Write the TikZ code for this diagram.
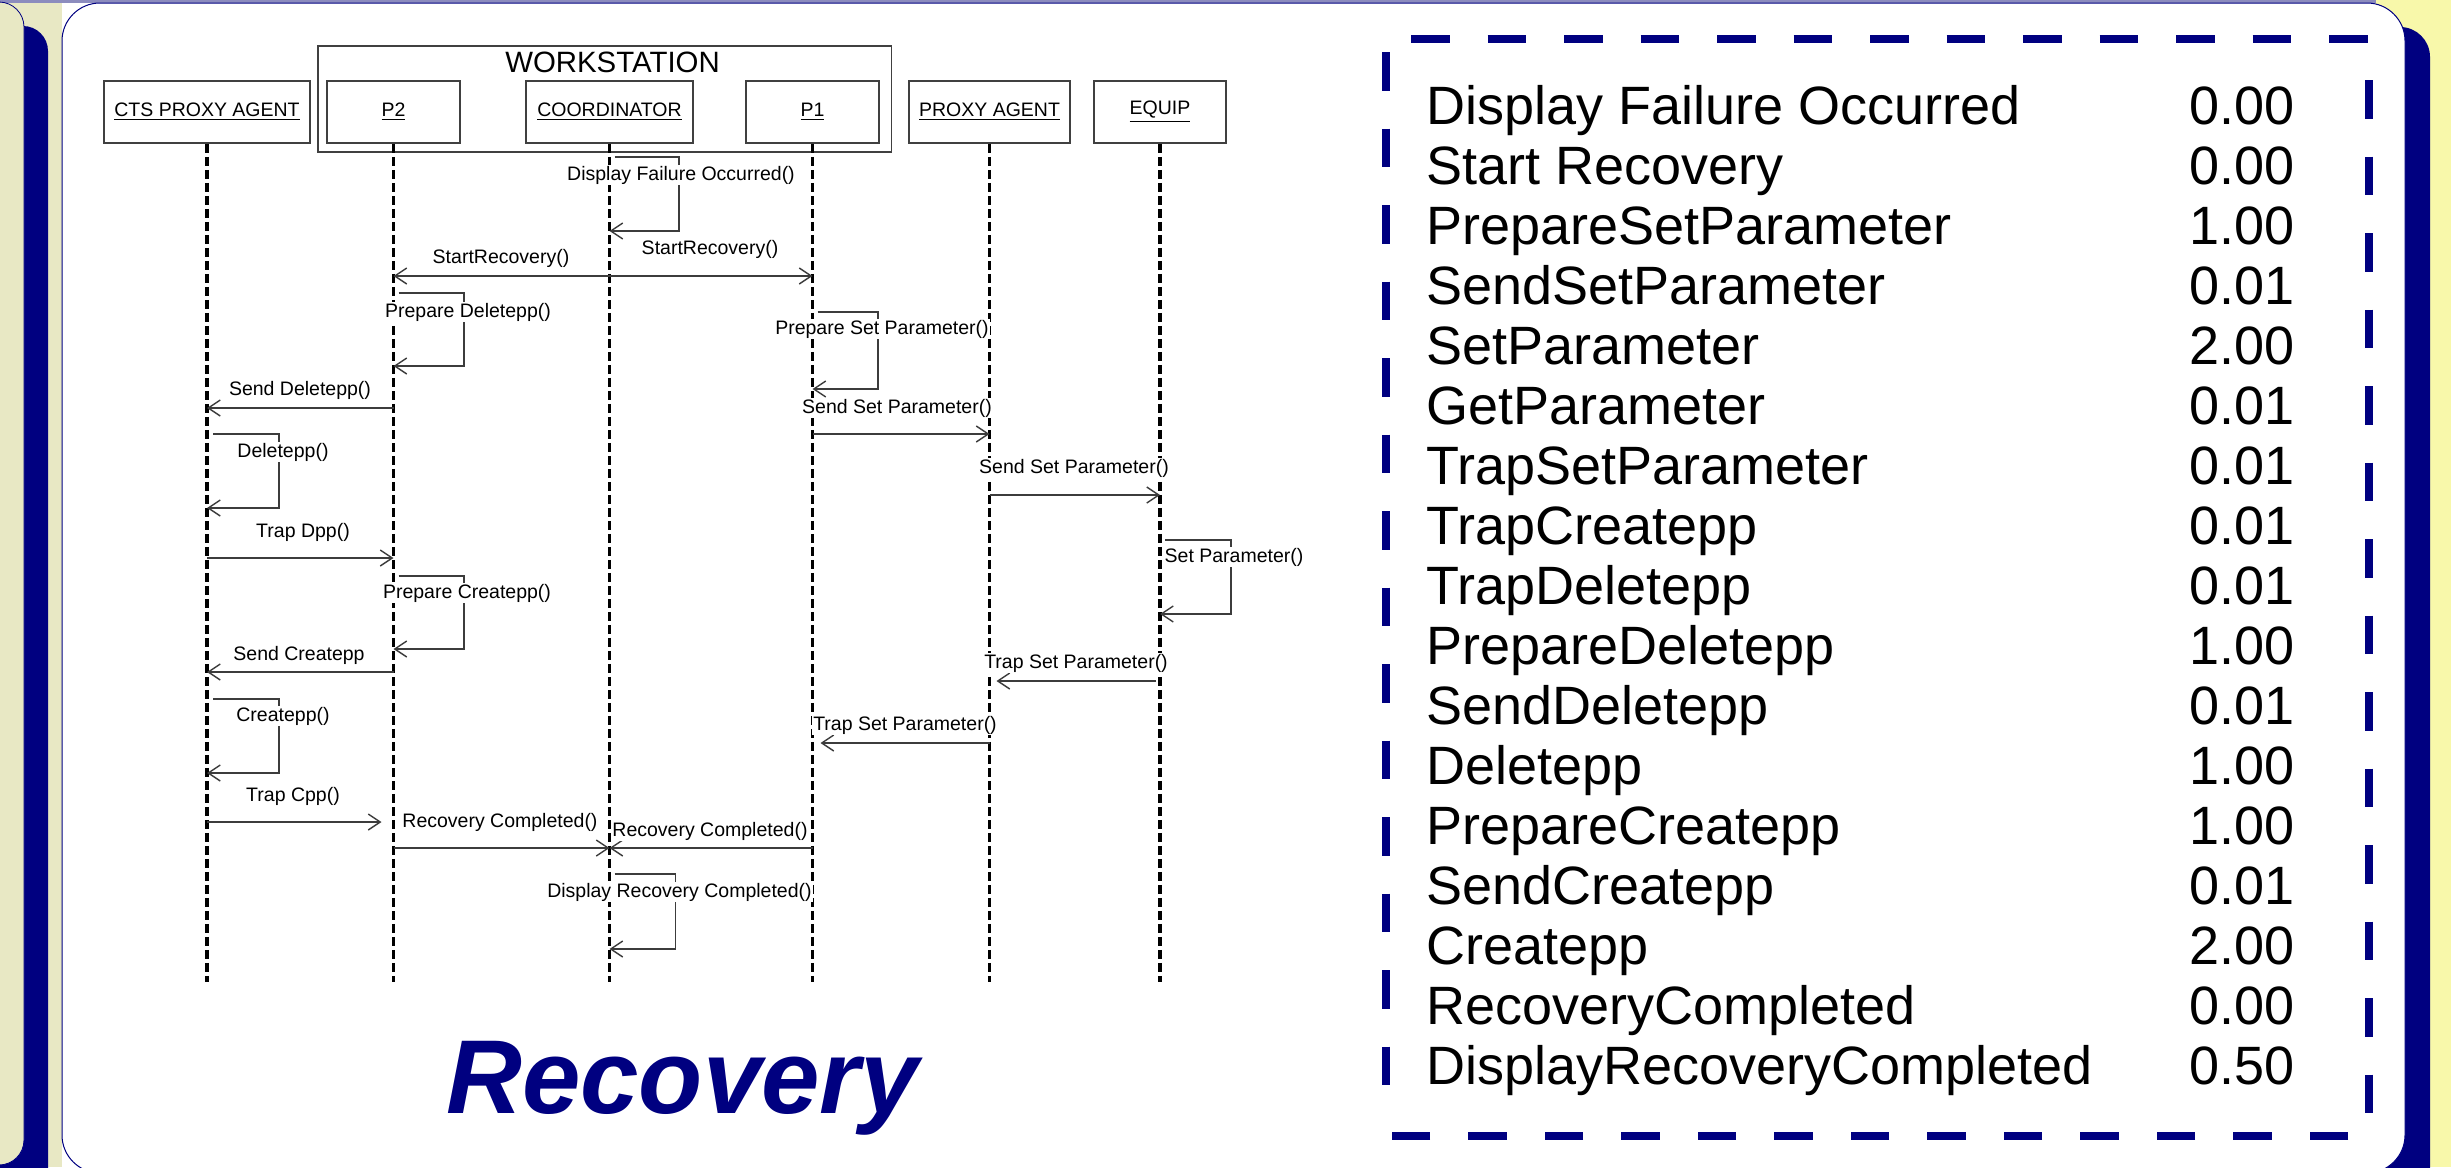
\documentclass[tikz,border=0pt]{standalone}
\usepackage{fontspec}
\setmainfont{Liberation Sans}
\usetikzlibrary{arrows.meta,calc}

\definecolor{navy}{RGB}{0,0,128}
\definecolor{creambg}{RGB}{232,232,196}
\definecolor{yellowbg}{RGB}{248,248,170}
\definecolor{topline}{RGB}{140,140,190}
\definecolor{msggray}{RGB}{60,60,60}

\begin{document}
\begin{tikzpicture}[x=0.5pt,y=-0.5pt,
  lbox/.style={draw=black!75, line width=0.75pt, fill=white, minimum height=31pt,
    inner sep=0pt, font=\fontsize{9.75}{11}\selectfont},
  life/.style={line width=1.75pt, dash pattern=on 4.5pt off 2pt},
  msg/.style={draw=msggray, line width=0.7pt, -{Straight Barb[length=6pt,width=8pt]}},
  lbl/.style={fill=white, inner sep=0.5pt, font=\fontsize{9.75}{11}\selectfont},
  tabtxt/.style={inner sep=0pt, font=\fontsize{27}{30}\selectfont},
  tabdash/.style={navy, line width=4pt, dash pattern=on 19.25pt off 19pt}
]
\useasboundingbox (0,0) rectangle (2451,1167);
\clip (0,0) rectangle (2451,1167);

% ---------- slide frame ----------
\fill[creambg] (0,0) rectangle (62,1167);
\fill[yellowbg] (2370,0) rectangle (2451,1167);
\fill[topline] (0,0) rectangle (2376,3);
% neighbouring panel and its shadow on the left
\fill[navy, rounded corners=12.5pt] (-200,26) rectangle (48,1260);
\draw[navy, line width=0.4pt, fill=creambg, rounded corners=12.5pt] (-200,2) rectangle (24,1165);
% main panel with its shadow
\fill[navy, rounded corners=15pt] (87,27) rectangle (2430,1197);
\draw[navy, line width=0.5pt, fill=white, rounded corners=19pt] (62,3) rectangle (2405,1173);

% ---------- sequence diagram ----------
\node[draw=black!75, line width=0.75pt, fill=white, minimum width=286.75pt,
  minimum height=53pt, inner sep=0pt] (ws) at (604.75,99) {};
\node[inner sep=0pt, font=\fontsize{14.7}{16}\selectfont] (wstitle) at (612.5,62) {WORKSTATION};

\node[lbox, minimum width=103pt]   (cts)   at (207,112)    {\underline{CTS PROXY AGENT}};
\node[lbox, minimum width=66.5pt]  (p2)    at (393.5,112)  {\underline{P2}};
\node[lbox, minimum width=83.5pt]  (coord) at (609.5,112)  {\underline{COORDINATOR}};
\node[lbox, minimum width=66.5pt]  (p1)    at (812.5,112)  {\underline{P1}};
\node[lbox, minimum width=80.5pt]  (proxy) at (989.5,112)  {\underline{PROXY AGENT}};
\node[lbox, minimum width=66pt]    (equip) at (1160,112)   {\underline{EQUIP}};

% lifelines
\foreach \l in {cts,p2,coord,p1,proxy,equip}
  \draw[life] (\l.south) -- (\l.south |- 0,982);

% Display Failure Occurred() on the coordinator
\draw[msg] ($(coord |- 0,157)+(5,0)$) -- (679,157) -- (679,231) -- (coord |- 0,231);
\node[lbl] (l1) at (681,175) {Display Failure Occurred()};

% StartRecovery() to both processes
\draw[msg] (coord |- 0,276) -- (p2 |- 0,276);
\draw[msg] (coord |- 0,276) -- (p1 |- 0,276);
\node[lbl] (l2) at (501,258) {StartRecovery()};
\node[lbl] (l3) at (710,249) {StartRecovery()};

% Prepare Deletepp() on P2
\draw[msg] ($(p2 |- 0,293)+(5,0)$) -- (464,293) -- (464,366) -- (p2 |- 0,366);
\node[lbl] (l4) at (468,312) {Prepare Deletepp()};

% Prepare Set Parameter() on P1
\draw[msg] ($(p1 |- 0,312)+(5,0)$) -- (878,312) -- (878,389) -- (p1 |- 0,389);
\node[lbl] (l5) at (882,329) {Prepare Set Parameter()};

% Send Deletepp()
\draw[msg] (p2 |- 0,408) -- (cts |- 0,408);
\node[lbl] (l6) at (300,390) {Send Deletepp()};

% Deletepp() on the CTS proxy agent
\draw[msg] ($(cts |- 0,434)+(6,0)$) -- (279,434) -- (279,508) -- (cts |- 0,508);
\node[lbl] (l7) at (283,452) {Deletepp()};

% Send Set Parameter() P1 -> proxy agent -> equipment
\draw[msg] (p1 |- 0,434) -- (proxy |- 0,434);
\node[lbl] (l8) at (897,408) {Send Set Parameter()};
\draw[msg] (proxy |- 0,495) -- (equip |- 0,495);
\node[lbl] (l9) at (1074,468) {Send Set Parameter()};

% Trap Dpp()
\draw[msg] (cts |- 0,558) -- (p2 |- 0,558);
\node[lbl] (l10) at (303,532) {Trap Dpp()};

% Set Parameter() on the equipment
\draw[msg] ($(equip |- 0,540)+(5,0)$) -- (1231,540) -- (1231,614) -- (equip |- 0,614);
\node[lbl] (l11) at (1234,557) {Set Parameter()};

% Prepare Createpp() on P2
\draw[msg] ($(p2 |- 0,576)+(5,0)$) -- (464,576) -- (464,649) -- (p2 |- 0,649);
\node[lbl] (l12) at (467,593) {Prepare Createpp()};

% Send Createpp
\draw[msg] (p2 |- 0,672) -- (cts |- 0,672);
\node[lbl] (l13) at (299,655) {Send Createpp};

% Trap Set Parameter() equipment -> proxy agent -> P1
\draw[msg] ($(equip |- 0,681)+(-4,0)$) -- ($(proxy |- 0,681)+(7,0)$);
\node[lbl] (l14) at (1076,663) {Trap Set Parameter()};
\draw[msg] (proxy |- 0,743) -- ($(p1 |- 0,743)+(8,0)$);
\node[lbl] (l15) at (905,725) {Trap Set Parameter()};

% Createpp() on the CTS proxy agent
\draw[msg] ($(cts |- 0,699)+(6,0)$) -- (279,699) -- (279,773) -- (cts |- 0,773);
\node[lbl] (l16) at (283,716) {Createpp()};

% Trap Cpp()
\draw[msg] (cts |- 0,822) -- ($(p2 |- 0,822)+(-12,0)$);
\node[lbl] (l17) at (293,796) {Trap Cpp()};

% Recovery Completed() from both processes
\draw[msg] (p2 |- 0,848) -- (coord |- 0,848);
\draw[msg] (p1 |- 0,848) -- (coord |- 0,848);
\node[lbl] (l18) at (500,822) {Recovery Completed()};
\node[lbl] (l19) at (710,831) {Recovery Completed()};

% Display Recovery Completed() on the coordinator
\draw[msg] ($(coord |- 0,874)+(5,0)$) -- (675.5,874) -- (675.5,949) -- (coord |- 0,949);
\node[lbl] (l20) at (679.5,892) {Display Recovery Completed()};

% title
\node[anchor=base west, inner sep=0pt, text=navy,
  font=\fontsize{52.5}{60}\selectfont\bfseries\itshape] (title) at (446,1113) {Recovery};

% ---------- timing table ----------
\draw[tabdash] (1411,39) -- (2372,39);
\draw[tabdash] (2369,80) -- (2369,1118);
\draw[tabdash] (2348,1135.5) -- (1386,1135.5);
\draw[tabdash] (1386,52) -- (1386,1100);

\foreach \n/\v [count=\i] in {
  Display Failure Occurred/0.00,
  Start Recovery/0.00,
  PrepareSetParameter/1.00,
  SendSetParameter/0.01,
  SetParameter/2.00,
  GetParameter/0.01,
  TrapSetParameter/0.01,
  TrapCreatepp/0.01,
  TrapDeletepp/0.01,
  PrepareDeletepp/1.00,
  SendDeletepp/0.01,
  Deletepp/1.00,
  PrepareCreatepp/1.00,
  SendCreatepp/0.01,
  Createpp/2.00,
  RecoveryCompleted/0.00,
  DisplayRecoveryCompleted/0.50} {
  \node[tabtxt, anchor=base west] (name\i) at (1426,{124+60.06*(\i-1)}) {\n};
  \node[tabtxt, anchor=base east] (val\i)  at (2295,{124+60.06*(\i-1)}) {\v};
}
\end{tikzpicture}
\end{document}
